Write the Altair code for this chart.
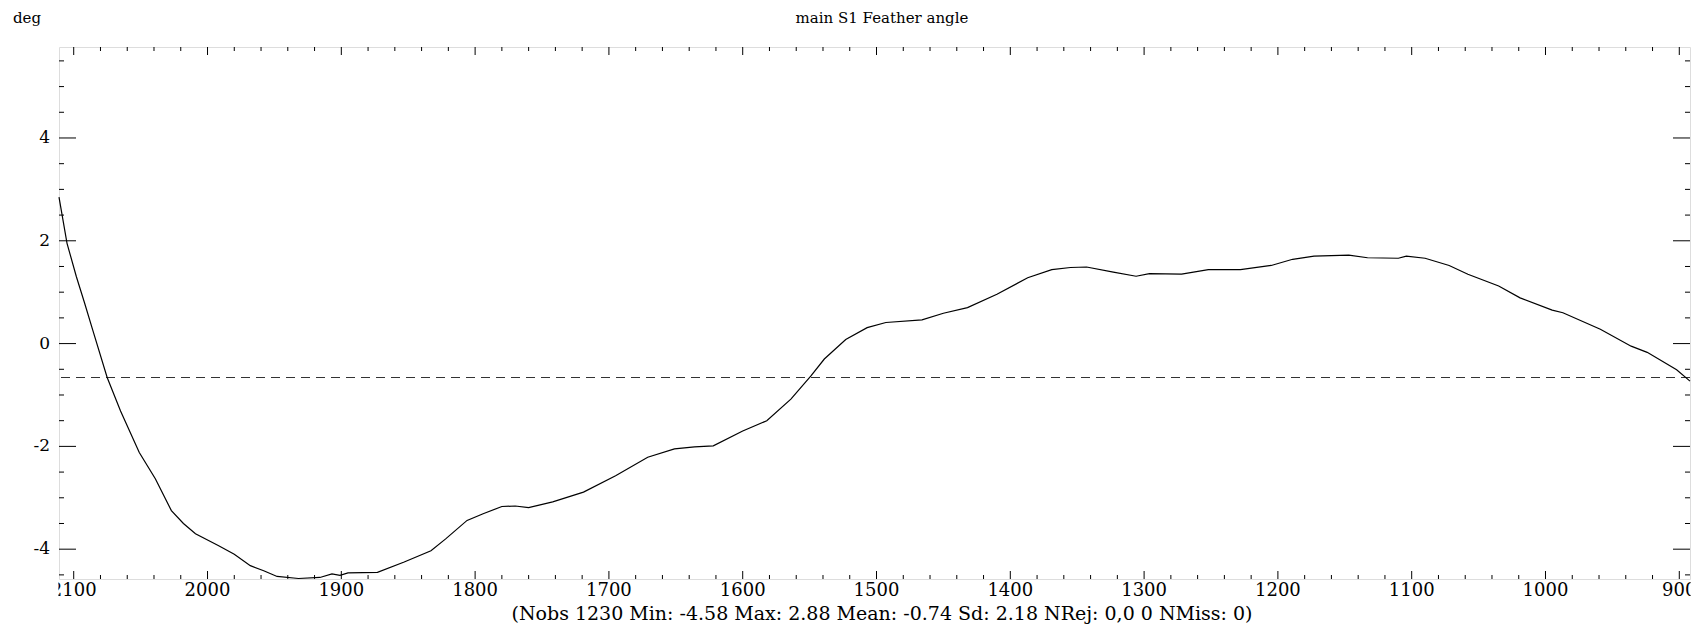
import altair as alt
import pandas as pd

# ---- data ----
wavenumber = [2111, 2105, 2098, 2092, 2086, 2075, 2065, 2051, 2039, 2027, 2018, 2009,
              1992, 1980, 1968, 1958, 1948, 1932, 1916, 1907, 1901, 1895, 1873, 1853,
              1833, 1822, 1806, 1794, 1780, 1770, 1760, 1742, 1719, 1695, 1671, 1651,
              1636, 1622, 1600, 1582, 1564, 1549, 1539, 1523, 1507, 1493, 1466, 1450,
              1432, 1410, 1387, 1369, 1355, 1343, 1323, 1306, 1296, 1272, 1252, 1228,
              1205, 1189, 1173, 1160, 1147, 1133, 1110, 1104, 1090, 1072, 1058, 1035,
              1019, 995, 987, 959, 936, 924, 902, 892]
angle = [2.85, 1.95, 1.30, 0.80, 0.28, -0.66, -1.31, -2.12, -2.63, -3.25, -3.50, -3.70,
         -3.93, -4.10, -4.32, -4.42, -4.53, -4.57, -4.55, -4.48, -4.51, -4.46, -4.45, -4.25,
         -4.03, -3.80, -3.44, -3.31, -3.17, -3.16, -3.19, -3.08, -2.89, -2.57, -2.21, -2.05,
         -2.01, -1.99, -1.70, -1.50, -1.08, -0.63, -0.30, 0.08, 0.31, 0.41, 0.46, 0.59,
         0.70, 0.96, 1.28, 1.44, 1.48, 1.49, 1.39, 1.31, 1.36, 1.35, 1.44, 1.44,
         1.52, 1.64, 1.70, 1.71, 1.72, 1.67, 1.66, 1.70, 1.66, 1.52, 1.35, 1.12,
         0.89, 0.65, 0.60, 0.28, -0.05, -0.17, -0.51, -0.73]
mean_level = -0.66

x_major = [2100, 2000, 1900, 1800, 1700, 1600, 1500, 1400, 1300, 1200, 1100, 1000, 900]
x_minor = [v for v in range(2100, 890, -20) if v % 100 != 0]
y_major = [-4, -2, 0, 2, 4]
y_minor = [-4.5, -3.5, -3, -2.5, -1.5, -1, -0.5, 0.5, 1, 1.5, 2.5, 3, 3.5, 4.5, 5, 5.5]

title_text = "main S1 Feather angle"
unit_text = "deg"
stats_text = "(Nobs 1230 Min: -4.58 Max: 2.88 Mean: -0.74 Sd: 2.18 NRej: 0,0 0 NMiss: 0)"

X_DOMAIN = [892, 2111]
Y_DOMAIN = [-4.58, 5.77]
W, H = 1631, 532
FONT = "DejaVu Serif"

xs = alt.Scale(domain=X_DOMAIN, reverse=True, nice=False, zero=False)
ys = alt.Scale(domain=Y_DOMAIN, nice=False, zero=False)

df = pd.DataFrame({"wn": wavenumber, "angle": angle})
xmaj = pd.DataFrame({"v": x_major, "label": [str(v) for v in x_major]})
xmin = pd.DataFrame({"v": x_minor})
ymaj = pd.DataFrame({"v": y_major, "label": [str(v) for v in y_major]})
ymin = pd.DataFrame({"v": y_minor})
one = pd.DataFrame({"t": [title_text], "u": [unit_text], "s": [stats_text], "m": [mean_level]})

line = alt.Chart(df).mark_line(color="black", strokeWidth=1.2).encode(
    x=alt.X("wn:Q", scale=xs, axis=None),
    y=alt.Y("angle:Q", scale=ys, axis=None),
)

mean_rule = alt.Chart(one).mark_rule(color="#333333", strokeWidth=1, strokeDash=[9, 6]).encode(
    y=alt.Y("m:Q", scale=ys, axis=None)
)

def xticks(data, y1, y2):
    return alt.Chart(data).mark_rule(color="black", strokeWidth=1).encode(
        x=alt.X("v:Q", scale=xs, axis=None), y=alt.value(y1), y2=alt.value(y2))

def yticks(data, x1, x2):
    return alt.Chart(data).mark_rule(color="black", strokeWidth=1).encode(
        y=alt.Y("v:Q", scale=ys, axis=None), x=alt.value(x1), x2=alt.value(x2))

ticks = [
    xticks(xmaj, H, H - 8), xticks(xmin, H, H - 4),
    xticks(xmaj, 0, 8), xticks(xmin, 0, 4),
    yticks(ymaj, 0, 17), yticks(ymin, 0, 5),
    yticks(ymaj, W, W - 17), yticks(ymin, W, W - 5),
]

xlabels = alt.Chart(xmaj).mark_text(font=FONT, fontSize=18, color="black",
                                     align="center", baseline="alphabetic").encode(
    x=alt.X("v:Q", scale=xs, axis=None), y=alt.value(H + 17), text="label:N")

ylabels = alt.Chart(ymaj).mark_text(font=FONT, fontSize=17, color="black",
                                     align="right", baseline="middle").encode(
    y=alt.Y("v:Q", scale=ys, axis=None), x=alt.value(-9), text="label:N")

# labels are cut at the plot's edges in the reference
mask_left = alt.Chart(one).mark_rect(color="white").encode(
    x=alt.value(-52), x2=alt.value(-0.6), y=alt.value(H + 2), y2=alt.value(H + 24))
mask_right = alt.Chart(one).mark_rect(color="white").encode(
    x=alt.value(W + 0.6), x2=alt.value(W + 12), y=alt.value(H + 2), y2=alt.value(H + 24))

title = alt.Chart(one).mark_text(font=FONT, fontSize=15, color="black",
                                  align="center", baseline="alphabetic").encode(
    x=alt.value(823), y=alt.value(-24), text="t:N")
unit = alt.Chart(one).mark_text(font=FONT, fontSize=15, color="black",
                                 align="left", baseline="alphabetic").encode(
    x=alt.value(-46), y=alt.value(-24), text="u:N")
stats = alt.Chart(one).mark_text(font=FONT, fontSize=19, color="black",
                                  align="center", baseline="alphabetic").encode(
    x=alt.value(823), y=alt.value(H + 41), text="s:N")

chart = alt.layer(
    mean_rule, line, *ticks, xlabels, ylabels, mask_left, mask_right, title, unit, stats
).properties(
    width=W, height=H,
    padding={"left": 51, "right": 2, "top": 39, "bottom": 45},
    autosize=alt.AutoSizeParams(type="none"),
).configure_view(stroke="black", strokeWidth=1).configure(background="white")

chart.save("out.html", embed_options={"renderer": "svg", "actions": False})
